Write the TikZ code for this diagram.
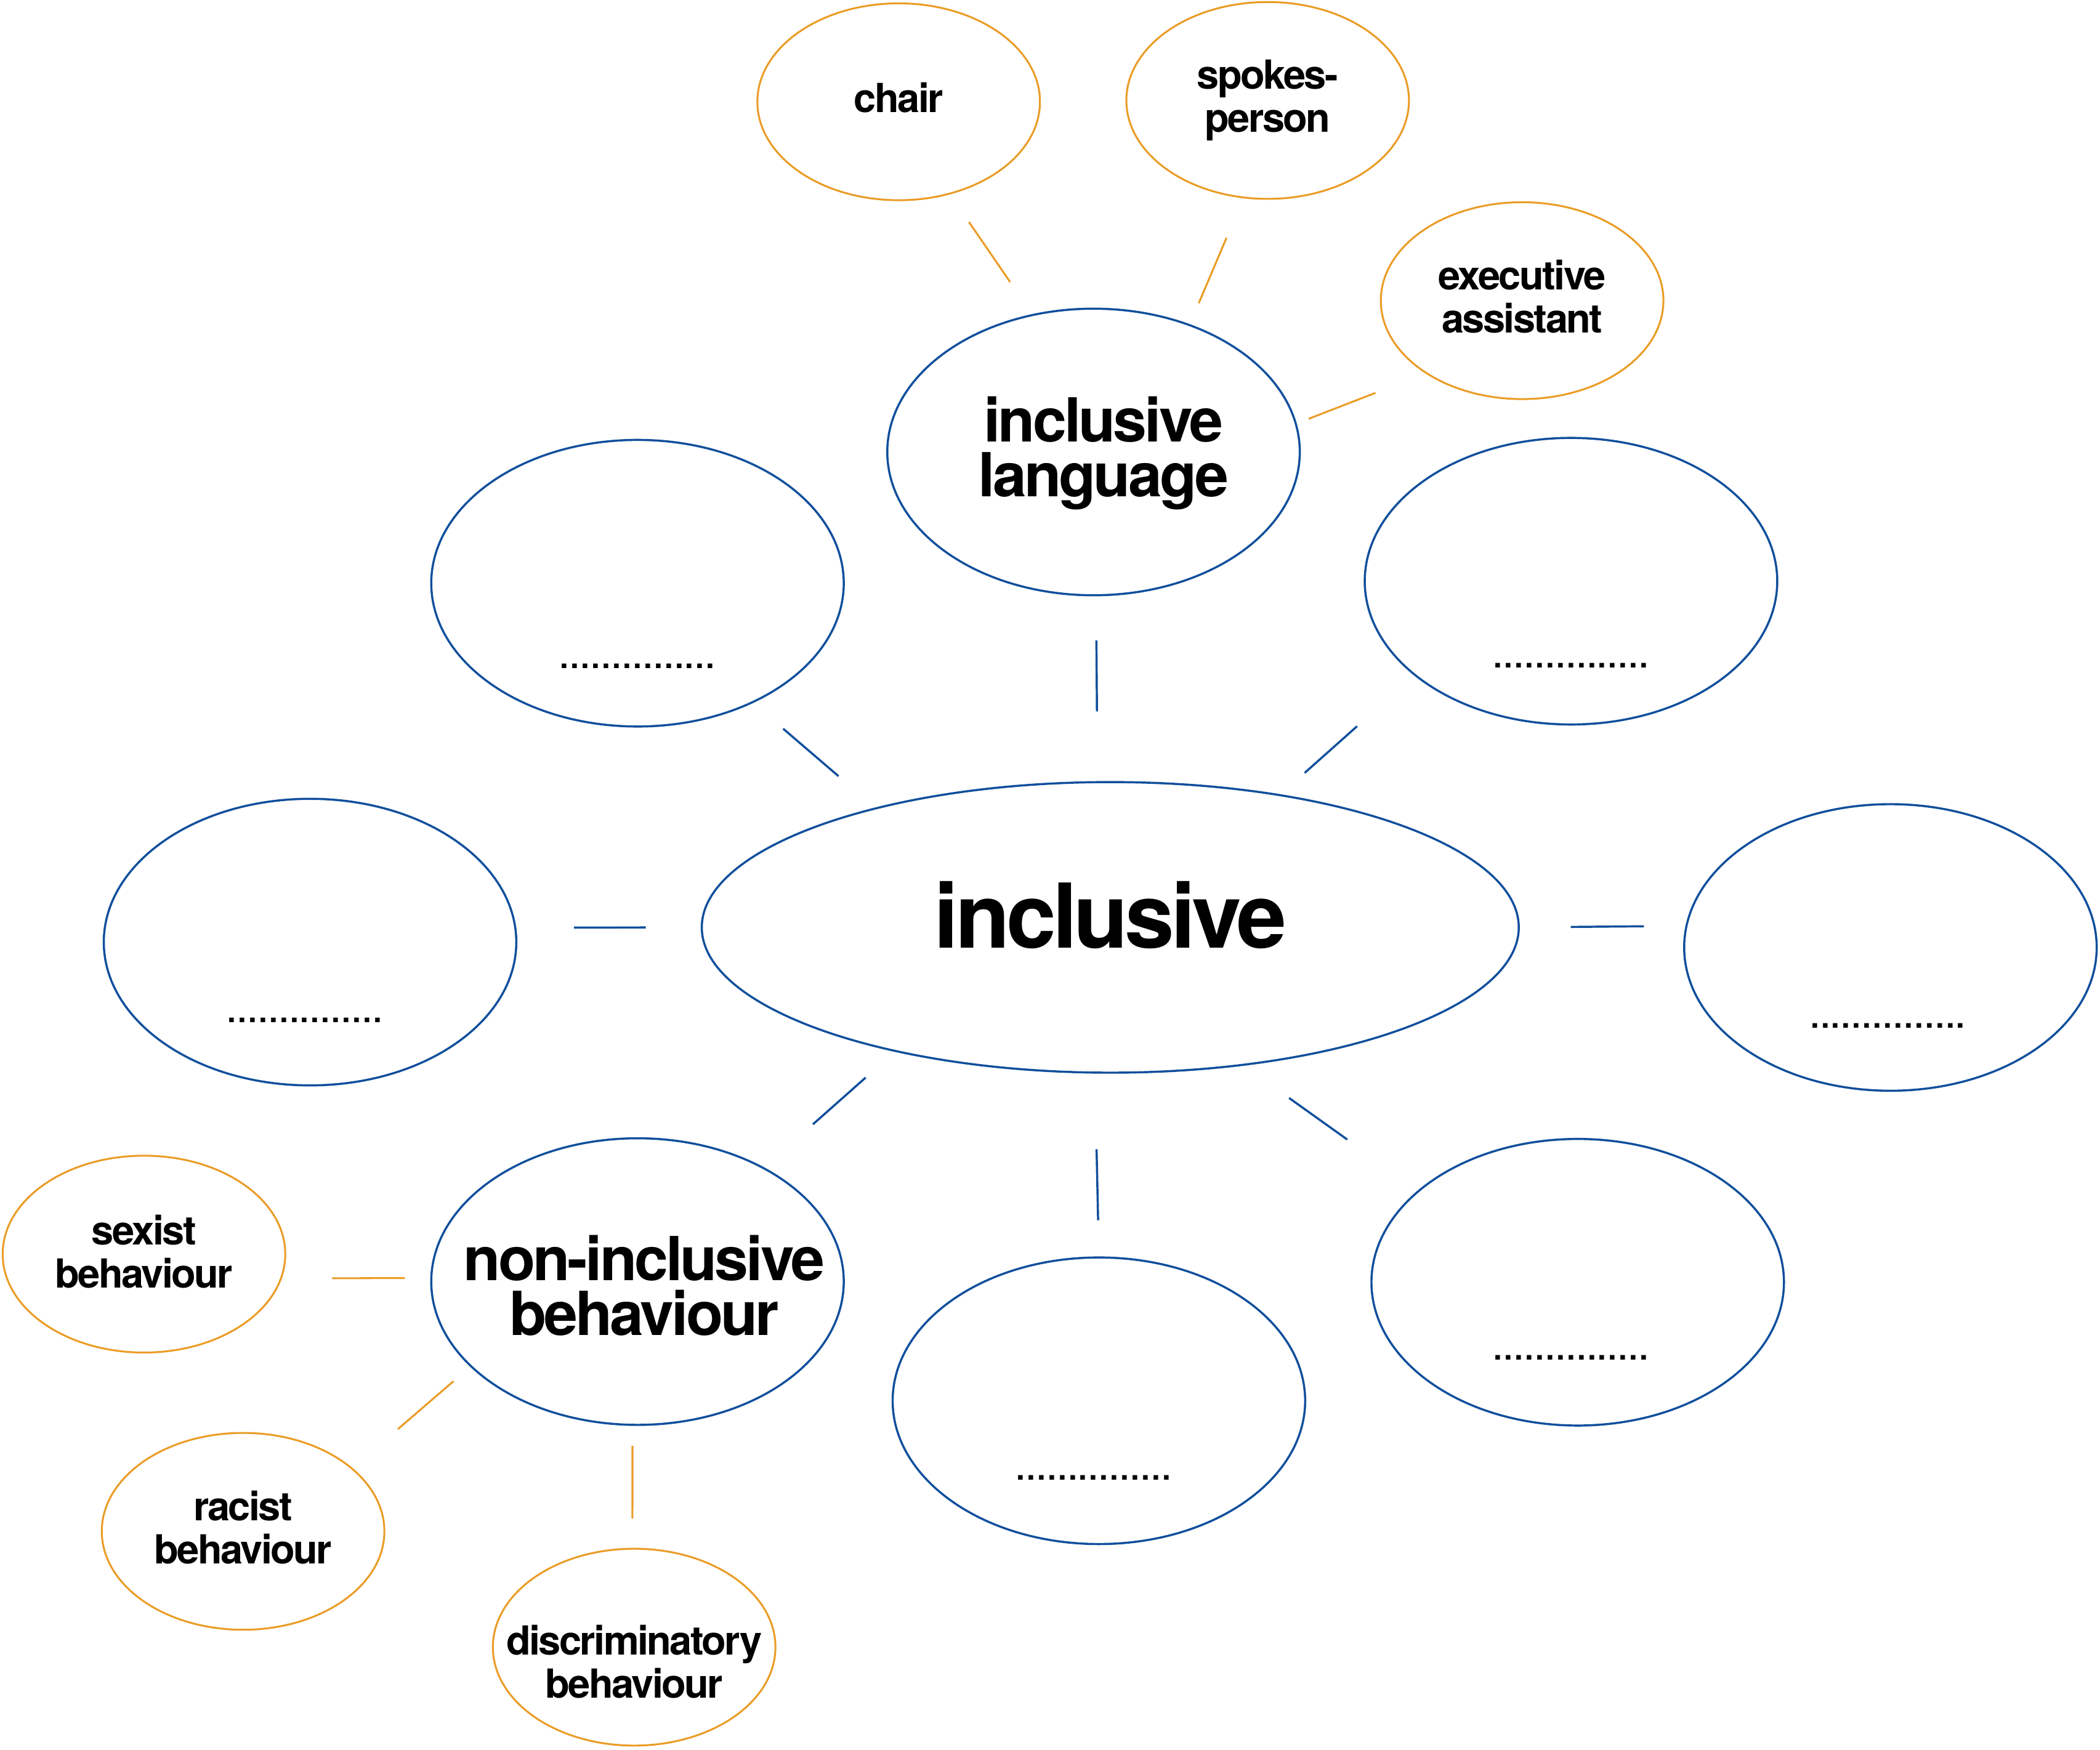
\documentclass[tikz,border=0pt]{standalone}
\usepackage{fontspec}
\setmainfont{TeX Gyre Heros}[LetterSpace=-4]
\usepackage{tikz}
\usepackage{xcolor}
\usetikzlibrary{shapes.geometric}
\definecolor{ideablue}{RGB}{17,79,156}
\definecolor{ideaorange}{RGB}{234,156,38}
\tikzstyle{bluelink} = [draw=ideablue, line width=0.45pt]
\tikzstyle{orangelink} = [draw=ideaorange, line width=0.4pt]

\begin{document}
\begin{tikzpicture}[
        hub/.style={ellipse, draw=ideablue, line width=0.45pt, inner sep=0pt, minimum width=6.1cm, minimum height=2.17cm},
        topic/.style={ellipse, draw=ideablue, line width=0.45pt, inner sep=0pt, minimum width=3.08cm, minimum height=2.14cm},
        term/.style={ellipse, draw=ideaorange, line width=0.4pt, inner sep=0pt, minimum width=2.11cm, minimum height=1.47cm},
        hubtext/.style={anchor=base, inner sep=0pt, font=\bfseries\fontsize{19}{19}\selectfont},
        topictext/.style={align=center, inner sep=0pt, font=\bfseries\fontsize{12.9}{11.6}\selectfont},
        termtext/.style={align=center, inner sep=0pt, font=\bfseries\fontsize{8.5}{9.2}\selectfont},
        blank/.style={anchor=base, inner sep=0pt, font=\fontsize{9.3}{9.3}\selectfont},
    ]
        \useasboundingbox (0,0) rectangle (15.68,-13.064);

        % centre and first ring
        \node[hub] (incl) at (8.29,-6.925) {};
        \node[hubtext] (tincl) at (8.29,-7.08) {inclusive};

        \node[topic] (lang) at (8.165,-3.375) {};
        \node[topic] (bul) at (4.76,-4.355) {};
        \node[topic] (bur) at (11.73,-4.34) {};
        \node[topic] (bl) at (2.315,-7.035) {};
        \node[topic] (br) at (14.115,-7.075) {};
        \node[topic] (ni) at (4.76,-9.57) {};
        \node[topic] (bb) at (8.205,-10.46) {};
        \node[topic] (blr) at (11.78,-9.575) {};

        \node[topictext] (tlang) at ([xshift=0.75mm, yshift=-0.1mm]lang.center) {inclusive\\language};
        \node[topictext] (tni) at ([xshift=0.5mm, yshift=-0.3mm]ni.center) {non-inclusive\\behaviour};

        \node[blank] (dbul) at ([yshift=-6.35mm]bul.center) {...............};
        \node[blank] (dbur) at ([yshift=-6.45mm]bur.center) {...............};
        \node[blank] (dbl) at ([xshift=-0.4mm, yshift=-6mm]bl.center) {...............};
        \node[blank] (dbr) at ([xshift=-0.2mm, yshift=-6mm]br.center) {...............};
        \node[blank] (dbb) at ([xshift=-0.4mm, yshift=-5.9mm]bb.center) {...............};
        \node[blank] (dblr) at ([xshift=-0.5mm, yshift=-5.8mm]blr.center) {...............};

        % outer terms
        \node[term] (chair) at (6.71,-0.76) {};
        \node[term] (spokes) at (9.465,-0.75) {};
        \node[term] (exec) at (11.365,-2.245) {};
        \node[term] (sexist) at (1.075,-9.365) {};
        \node[term] (racist) at (1.815,-11.435) {};
        \node[term] (disc) at (4.735,-12.3) {};

        \node[termtext] (tchair) at ([yshift=0.3mm]chair.center) {chair};
        \node[termtext] (tspokes) at (spokes.center) {spokes-\\person};
        \node[termtext] (texec) at ([yshift=0.3mm]exec.center) {executive\\assistant};
        \node[termtext] (tsexist) at ([yshift=0.2mm]sexist.center) {sexist\\behaviour};
        \node[termtext] (tracist) at ([yshift=0.3mm]racist.center) {racist\\behaviour};
        \node[termtext] (tdisc) at ([yshift=-1.1mm]disc.center) {discriminatory\\behaviour};

        % blue links
        \draw[bluelink, shorten <=3.3mm, shorten >=5.2mm] (lang.-89) -- (incl.95);
        \draw[bluelink, shorten <=2.95mm, shorten >=3.6mm] (bul.-46) -- (incl.153);
        \draw[bluelink, shorten <=5.7mm, shorten >=2.4mm] (bur.-149) -- (incl.38);
        \draw[bluelink, shorten <=4.3mm, shorten >=4.1mm] (bl.4) -- (incl.180);
        \draw[bluelink, shorten <=3.8mm, shorten >=3.1mm] (incl.0) -- (br.174);
        \draw[bluelink, shorten <=2.9mm, shorten >=4.85mm] (incl.-150) -- (ni.42);
        \draw[bluelink, shorten <=5.65mm, shorten >=2.7mm] (incl.-96) -- (bb.90);
        \draw[bluelink, shorten <=4.15mm, shorten >=6.5mm] (incl.-46) -- (blr.150);

        % orange links
        \draw[orangelink, shorten <=2.5mm, shorten >=2.9mm] (chair.-61) -- (lang.114);
        \draw[orangelink, shorten <=3.2mm, shorten >=1.7mm] (spokes.-104) -- (lang.53);
        \draw[orangelink, shorten <=4mm, shorten >=0.95mm] (exec.-143) -- (lang.8);
        \draw[orangelink, shorten <=3.75mm, shorten >=1.9mm] (sexist.-10) -- (ni.179);
        \draw[orangelink, shorten <=1.65mm, shorten >=4.45mm] (ni.207) -- (racist.30);
        \draw[orangelink, shorten <=1.5mm, shorten >=2.2mm] (ni.-92) -- (disc.91);
    \end{tikzpicture}
\end{document}
